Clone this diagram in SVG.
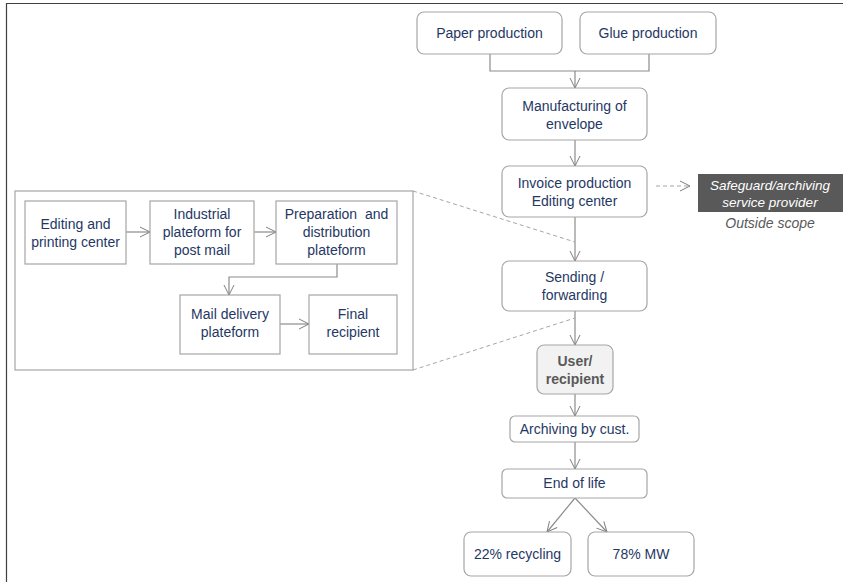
<svg xmlns="http://www.w3.org/2000/svg" width="843" height="582" viewBox="0 0 843 582">
<defs>
<marker id="ah" viewBox="0 0 12 12" refX="11" refY="6" markerWidth="12" markerHeight="12" markerUnits="userSpaceOnUse" orient="auto">
<path d="M1,1 L11,6 L1,11" fill="none" stroke="#7f7f7f" stroke-width="1"/>
</marker>
</defs>
<style>
.b{fill:#fff;stroke:#a6a6a6;stroke-width:1.2}
.t{font-family:"Liberation Sans",Arial,sans-serif;font-size:14px;fill:#1f3864;text-anchor:middle;white-space:pre}
.c{fill:none;stroke:#8c8c8c;stroke-width:1.2}
.d{fill:none;stroke:#a6a6a6;stroke-width:1;stroke-dasharray:4,3}
</style>
<rect x="0" y="0" width="843" height="582" fill="#fff"/>
<path d="M6.5,582 V3.5 H843" fill="none" stroke="#404040" stroke-width="1.2"/>
<g id="inset"><rect class="b" x="15" y="191" width="398" height="179"/></g>
<g id="connectors">
<path class="c" d="M490,54 V71 H649 V54"/>
<path class="c" d="M575,71 V88" marker-end="url(#ah)"/>
<path class="c" d="M575,140 V166" marker-end="url(#ah)"/>
<path class="d" d="M656,186 H690" marker-end="url(#ah)"/>
<path class="c" d="M575,217 V261" marker-end="url(#ah)"/>
<path class="c" d="M575,311 V345" marker-end="url(#ah)"/>
<path class="c" d="M575,394 V416" marker-end="url(#ah)"/>
<path class="c" d="M575,442 V469" marker-end="url(#ah)"/>
<path class="c" d="M575,498 L547,532" marker-end="url(#ah)"/>
<path class="c" d="M575,498 L607,532" marker-end="url(#ah)"/>
<path class="d" d="M413,191 L575,242"/>
<path class="d" d="M413,370 L575,318"/>
<path class="c" d="M126,232 H150" marker-end="url(#ah)"/>
<path class="c" d="M254,232 H276" marker-end="url(#ah)"/>
<path class="c" d="M337,264 V277 H229 V295" marker-end="url(#ah)"/>
<path class="c" d="M280,324 H309" marker-end="url(#ah)"/>
</g>
<g id="paper"><rect class="b" x="417" y="12" width="145" height="42" rx="7"/><text class="t" x="489.5" y="38">Paper production</text></g>
<g id="glue"><rect class="b" x="580" y="12" width="136" height="42" rx="7"/><text class="t" x="648" y="38">Glue production</text></g>
<g id="manufacturing"><rect class="b" x="502" y="88" width="145" height="52" rx="7"/><text class="t" x="574.5" y="111">Manufacturing of</text><text class="t" x="574.5" y="129">envelope</text></g>
<g id="invoice"><rect class="b" x="502" y="166" width="145" height="51" rx="7"/><text class="t" x="574.5" y="188">Invoice production</text><text class="t" x="574.5" y="206">Editing center</text></g>
<g id="safeguard"><rect x="698" y="174" width="145" height="38" fill="#595959"/><text class="t" x="770" y="190" style="fill:#fff;font-style:italic;font-size:13.5px">Safeguard/archiving</text><text class="t" x="770" y="207" style="fill:#fff;font-style:italic;font-size:13.5px">service provider</text><text class="t" x="770" y="228" style="fill:#595959;font-style:italic">Outside scope</text></g>
<g id="sending"><rect class="b" x="502" y="261" width="145" height="50" rx="7"/><text class="t" x="574.5" y="282">Sending /</text><text class="t" x="574.5" y="300">forwarding</text></g>
<g id="user"><rect x="537" y="345" width="76" height="49" rx="7" fill="#f2f2f2" stroke="#a6a6a6" stroke-width="1.2"/><text class="t" x="575" y="366" style="fill:#595959;font-weight:bold">User/</text><text class="t" x="575" y="384" style="fill:#595959;font-weight:bold">recipient</text></g>
<g id="archiving"><rect class="b" x="510" y="416" width="129" height="26" rx="5"/><text class="t" x="574.5" y="434">Archiving by cust.</text></g>
<g id="endoflife"><rect class="b" x="502" y="469" width="145" height="29" rx="5"/><text class="t" x="574.5" y="488">End of life</text></g>
<g id="recycling"><rect class="b" x="464" y="532" width="107" height="44" rx="7"/><text class="t" x="517.5" y="559">22% recycling</text></g>
<g id="mw"><rect class="b" x="588" y="532" width="106" height="44" rx="7"/><text class="t" x="641" y="559">78% MW</text></g>
<g id="editing"><rect class="b" x="25" y="201" width="101" height="63"/><text class="t" x="75.5" y="229">Editing and</text><text class="t" x="75.5" y="247">printing center</text></g>
<g id="industrial"><rect class="b" x="150" y="201" width="104" height="63"/><text class="t" x="202" y="219">Industrial</text><text class="t" x="202" y="237">plateform for</text><text class="t" x="202" y="255">post mail</text></g>
<g id="preparation"><rect class="b" x="276" y="201" width="121" height="63"/><text class="t" x="336.5" y="219" xml:space="preserve">Preparation  and</text><text class="t" x="336.5" y="237">distribution</text><text class="t" x="336.5" y="255">plateform</text></g>
<g id="maildelivery"><rect class="b" x="180" y="295" width="100" height="59"/><text class="t" x="230" y="319">Mail delivery</text><text class="t" x="230" y="337">plateform</text></g>
<g id="final"><rect class="b" x="309" y="295" width="88" height="59"/><text class="t" x="353" y="319">Final</text><text class="t" x="353" y="337">recipient</text></g>
</svg>
